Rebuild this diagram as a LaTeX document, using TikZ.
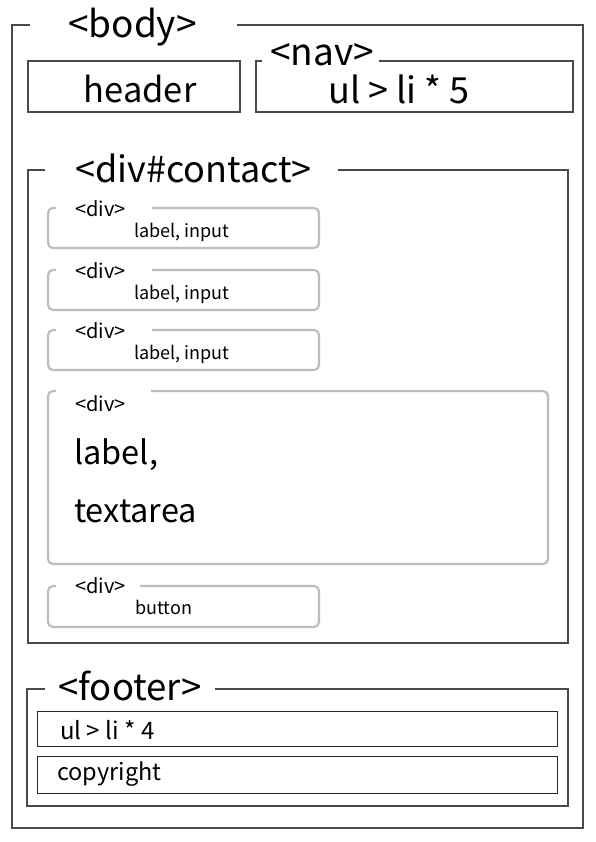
\documentclass[tikz,border=0pt]{standalone}
\usepackage{fontspec}
\setmainfont{Noto Sans CJK JP}
\definecolor{frame}{HTML}{4A4A4A}
\definecolor{soft}{HTML}{BDBDBD}
\begin{document}
\begin{tikzpicture}[x=1pt,y=-1pt,
  outer/.style={draw=frame,line width=1.1pt},
  inner/.style={draw=black!85,line width=0.9pt},
  divbox/.style={draw=soft,line width=2.2pt,rounded corners=5pt},
  txt/.style={inner sep=0pt,anchor=base west},
  big/.style={txt,font=\fontsize{37}{39}\selectfont},
  mid/.style={txt,font=\fontsize{32.5}{34}\selectfont},
  tag/.style={txt,font=\fontsize{20}{22}\selectfont},
  small/.style={txt,font=\fontsize{18}{20}\selectfont}]
\useasboundingbox (0,0) rectangle (595,842);
\fill[white] (0,0) rectangle (595,842);
% body
\draw[outer] (30,25) -- (12,25) -- (12,828) -- (583,828) -- (583,25) -- (237,25);
\node[big] (body) at (68,38) {<body>};
% header
\draw[outer] (28,61) rectangle (240,112);
\node[inner sep=0pt,anchor=base,font=\fontsize{34.5}{36}\selectfont] (header) at (140,103) {header};
% nav
\draw[outer] (262,61) -- (256,61) -- (256,112) -- (573,112) -- (573,61) -- (379,61);
\node[big] (nav) at (270,66) {<nav>};
\node[txt,font=\fontsize{36}{38}\selectfont] (navul) at (328,104) {ul > li * 5};
% contact
\draw[outer] (45,170) -- (28,170) -- (28,643) -- (568,643) -- (568,170) -- (338,170);
\node[txt,font=\fontsize{36}{38}\selectfont] (contact) at (75,183) {<div\#contact>};
% small divs
\foreach \t/\n in {208/a,270/b,330/c}{
  \draw[divbox] (152,\t) -- (319,\t) -- (319,\t+40) -- (48,\t+40) -- (48,\t) -- (56,\t);
  \node[tag] (div\n) at (75,\t+8) {<div>};
  \node[small] (li\n) at (134,\t+29) {label, input};
}
% big div
\draw[divbox] (151,391) -- (548,391) -- (548,564) -- (48,564) -- (48,391) -- (56,391);
\node[tag] (divd) at (75,411) {<div>};
\node[mid] (lab) at (74,464) {label,};
\node[mid] (ta) at (74,522) {textarea};
% button div
\draw[divbox] (140,586) -- (319,586) -- (319,627) -- (48,627) -- (48,586) -- (56,586);
\node[tag] (dive) at (75,593) {<div>};
\node[small] (btn) at (135,614) {button};
% footer
\draw[outer] (45,689) -- (27,689) -- (27,806) -- (568,806) -- (568,689) -- (215,689);
\node[txt,font=\fontsize{36.5}{38}\selectfont] (footer) at (58,700) {<footer>};
\draw[inner] (37,711) rectangle (557,746);
\node[txt,font=\fontsize{24}{26}\selectfont] (ful) at (60,739) {ul > li * 4};
\draw[inner] (37,756) rectangle (557,793);
\node[txt,font=\fontsize{23.5}{25}\selectfont] (copy) at (57,780) {copyright};
\end{tikzpicture}
\end{document}
